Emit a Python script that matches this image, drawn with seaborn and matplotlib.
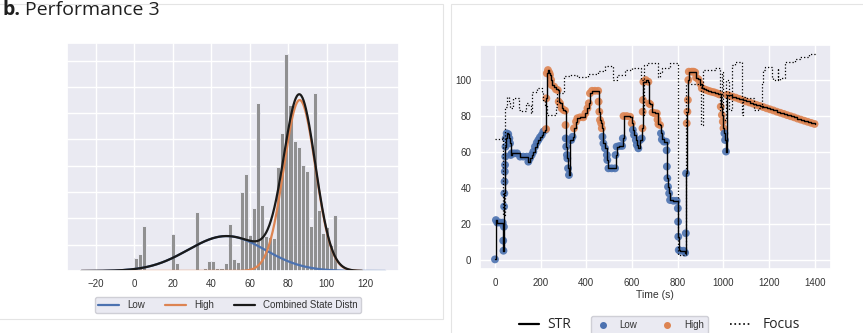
import numpy as np
import pandas as pd
import matplotlib
matplotlib.use("Agg")
import matplotlib.pyplot as plt
import seaborn as sns
from matplotlib.lines import Line2D
from matplotlib.patches import Rectangle

# ---------------- data: left panel (state distribution) ----------------
bin_edges = np.linspace(0.0, 105.5, 51)
# density of each bin (histogram of STR values)
hist_density = [0.00255, 0.00315, 0.00855, 0.0, 0.00025, 0.00025, 0.0, 0.00025, 0.00025, 0.00695,
                0.00145, 0.0, 0.0, 0.00025, 0.00025, 0.01125, 0.0, 0.0005, 0.0019, 0.0019,
                0.0005, 0.0005, 0.00145, 0.0089, 0.0022, 0.00175, 0.01495, 0.01835, 0.00685, 0.0119,
                0.03185, 0.0125, 0.00665, 0.0064, 0.0062, 0.0197, 0.02615, 0.0412, 0.0315, 0.02475,
                0.0235, 0.02015, 0.019, 0.00855, 0.03385, 0.0116, 0.00715, 0.0084, 0.00495, 0.01065]
state_names = ["Low", "High"]
state_weights = [0.333, 0.668]
state_means = [48.0, 86.0]
state_sds = [20.0, 8.2]

# ---------------- data: right panel (time series) ----------------
str_t = [0, 4, 10, 22, 34, 36, 37, 39, 40, 41, 42, 43, 44, 45, 46, 47, 51, 58, 63, 66, 69, 73, 85, 97,
         110, 124, 139, 146, 153, 161, 168, 175, 183, 190, 197, 205, 212, 221, 224, 225, 227, 232, 238,
         241, 246, 248, 259, 267, 275, 279, 285, 292, 300, 307, 309, 310, 312, 315, 317, 320, 324, 327,
         334, 340, 346, 355, 361, 373, 387, 396, 405, 411, 416, 425, 438, 452, 454, 457, 460, 465, 468,
         471, 475, 482, 490, 492, 497, 511, 526, 528, 533, 545, 557, 560, 563, 577, 592, 599, 604, 609,
         617, 621, 628, 636, 643, 646, 647, 648, 650, 660, 672, 675, 680, 690, 700, 709, 712, 716, 723,
         727, 731, 740, 750, 752, 753, 755, 758, 763, 767, 782, 796, 801, 802, 803, 805, 811, 826, 833,
         836, 837, 840, 843, 845, 847, 849, 862, 870, 877, 881, 891, 899, 906, 915, 925, 935, 945, 955,
         964, 975, 983, 989, 994, 998, 1001, 1005, 1008, 1012, 1016, 1023, 1040, 1055, 1070, 1085, 1100,
         1115, 1130, 1145, 1160, 1175, 1190, 1205, 1220, 1235, 1250, 1265, 1280, 1295, 1310, 1325, 1340,
         1355, 1370, 1385, 1400]
str_v = [0.5, 22.3, 20.9, 20.9, 20.9, 10.9, 5.3, 18.6, 29.8, 37.1, 43.6, 49.2, 52.9, 57.5, 63, 67.6, 70.4,
         70, 67.6, 64.9, 58.4, 59.3, 59.3, 59.3, 57.5, 57.5, 57.5, 54.7, 56.5, 58.4, 60.2, 63, 65.2, 66.7,
         68.2, 69.5, 71.4, 72.3, 72.8, 89.8, 103.7, 105.5, 104, 102.8, 100, 97.2, 96.3, 94.8, 94.4, 88, 87,
         84.3, 83.4, 83, 75, 67.6, 63, 58.4, 56.5, 51, 47.3, 66.7, 66.7, 68.5, 73.2, 76.9, 78.8, 79.3, 79.3,
         81.5, 84.3, 87.1, 92.6, 94, 94, 94, 88, 82.4, 77.8, 76, 73.2, 68.5, 64.8, 62.1, 58.4, 55.6, 51, 51,
         51, 58.4, 63, 63.4, 63.4, 67.6, 80, 80, 79.6, 76, 72.3, 69.5, 66.7, 64, 62.1, 66.7, 67.6, 73.2,
         82.4, 88.9, 99, 100, 99, 87, 86.5, 82, 81.5, 81.5, 78, 75.5, 75, 70.4, 67, 65.8, 65.8, 61, 52, 45.5,
         40.8, 37.1, 33.4, 33, 33, 28.8, 21.4, 13.1, 5.7, 5.3, 5.3, 4.2, 15, 48.2, 76, 82.4, 88.9, 100, 104.6,
         104.6, 104.6, 104.2, 101.3, 100.4, 98, 95.4, 95, 94.5, 94, 93.6, 93.3, 93, 92.5, 92, 85.2, 80.6,
         76.9, 73.2, 70.4, 66.7, 60.3, 91.7, 91.5, 90.8, 90.2, 89.5, 88.8, 88.1, 87.5, 86.9, 86.2, 85.6, 85,
         84.3, 83.7, 83.1, 82.4, 81.8, 81.2, 80.5, 79.9, 79.3, 78.6, 78, 77.4, 76.8, 76.2, 75.6]
focus_t = [0, 29, 34, 45, 51, 54, 60, 66, 80, 102, 107, 110, 131, 136, 143, 153, 156, 161, 180, 183, 197,
           205, 212, 219, 227, 263, 267, 270, 300, 304, 330, 358, 402, 409, 446, 453, 475, 482, 511, 516,
           526, 533, 563, 570, 592, 599, 636, 639, 647, 653, 665, 709, 716, 723, 731, 760, 767, 796, 801,
           830, 835, 884, 899, 902, 910, 957, 964, 983, 986, 995, 1001, 1010, 1023, 1038, 1052, 1074, 1081,
           1086, 1096, 1125, 1133, 1154, 1169, 1176, 1184, 1206, 1213, 1220, 1235, 1238, 1242, 1249, 1267,
           1271, 1300, 1315, 1337, 1359, 1374, 1403]
focus_v = [67.1, 68.6, 25, 85.2, 85.2, 90.8, 88, 84.3, 90.2, 90.2, 83.4, 82.8, 82.8, 87, 86, 86, 81.5,
           93.5, 93.5, 95.4, 95.4, 93.5, 89, 86, 80.6, 80.6, 85.2, 92.6, 92.6, 102.2, 102.5, 101.5, 101.5,
           103.3, 103.3, 105, 105, 107.8, 107.8, 100, 100, 102.8, 102.8, 105.5, 105.5, 106.5, 106.5, 100,
           80.6, 108.3, 109.3, 109.3, 101.9, 104.6, 106.5, 106.5, 109.3, 109.3, 3, 3, 98, 98, 97, 75, 105.5,
           105.5, 106.5, 106.5, 83, 104.6, 78, 100, 83.4, 108.3, 110.2, 110.2, 80.6, 90.8, 90, 90, 83.4, 84.3,
           99, 105.5, 107.4, 107.4, 101, 100, 100, 106.5, 100, 101, 101, 110.2, 110.2, 111.5, 113, 113,
           114.3, 113.9]
high_threshold = 72.5

# ---------------- style ----------------
sns.set_theme(style="darkgrid")
plt.rcParams["font.family"] = ["Liberation Sans", "DejaVu Sans"]
BLUE, ORANGE = sns.color_palette("deep")[0], sns.color_palette("deep")[1]
TXT = "#333333"

fig = plt.figure(figsize=(8.63, 3.33), dpi=100)
W, H = 863.0, 333.0

def fx(px):
    return px / W

def fy(py):
    return 1 - py / H

# panel frames (light boxes)
fig.add_artist(Rectangle((fx(-1), fy(319)), fx(444), (319 - 4) / H, transform=fig.transFigure,
                         fill=False, edgecolor="#e4e4e4", lw=0.8))
fig.add_artist(Rectangle((fx(450.7), -0.02), 0.6, 1.02 - 4 / H, transform=fig.transFigure,
                         fill=False, edgecolor="#e4e4e4", lw=0.8))

# ---------------- left panel ----------------
axL = fig.add_axes([fx(67.3), fy(271), fx(399.3 - 67.3), (271 - 42.7) / H])
centers = (bin_edges[:-1] + bin_edges[1:]) / 2
df_hist = pd.DataFrame({"x": centers, "w": hist_density})
sns.histplot(data=df_hist, x="x", weights="w", bins=bin_edges.tolist(), stat="count", ax=axL,
             color="#808080", alpha=0.85, edgecolor="#EAEAF2", linewidth=0.7, legend=False)

def npdf(x, m, s):
    return np.exp(-0.5 * ((x - m) / s) ** 2) / (s * np.sqrt(2 * np.pi))

xs_low = np.linspace(-27.5, 130.5, 500)
xs = np.linspace(-27.5, 118.5, 500)
low_curve = state_weights[0] * npdf(xs_low, state_means[0], state_sds[0])
high_curve = state_weights[1] * npdf(xs, state_means[1], state_sds[1])
comb_curve = (state_weights[0] * npdf(xs, state_means[0], state_sds[0]) + high_curve)
sns.lineplot(x=xs_low, y=low_curve, ax=axL, color=BLUE, lw=1.6, estimator=None, sort=False, legend=False)
sns.lineplot(x=xs, y=high_curve, ax=axL, color=ORANGE, lw=1.6, estimator=None, sort=False, legend=False)
sns.lineplot(x=xs, y=comb_curve, ax=axL, color="#1a1a1a", lw=1.6, estimator=None, sort=False, legend=False)

axL.set_xlim(-34.8, 137.8)
axL.set_ylim(0, 0.0434)
axL.set_xticks(np.arange(-20, 121, 20))
axL.set_yticks(np.arange(0, 0.0434, 0.005))
axL.set_yticklabels([])
axL.set_xlabel("")
axL.set_ylabel("")
axL.tick_params(axis="x", labelsize=7, pad=5.5, colors=TXT, length=0)
axL.tick_params(axis="y", length=0)

handlesL = [Line2D([], [], color=BLUE, lw=1.6), Line2D([], [], color=ORANGE, lw=1.6),
            Line2D([], [], color="#1a1a1a", lw=1.6)]
legL = fig.legend(handlesL, ["Low", "High", "Combined State Distn"], loc="center",
                  bbox_to_anchor=(fx(228), fy(305)), ncol=3, fontsize=7, frameon=True,
                  handlelength=2.1, handletextpad=0.85, columnspacing=2.1, borderpad=0.35,
                  facecolor="#EAEAF2", edgecolor="#cfcfd6", framealpha=1)
for t in legL.get_texts():
    t.set_color(TXT)

# ---------------- right panel ----------------
axR = fig.add_axes([fx(479.7), fy(269.3), fx(831 - 479.7), (269.3 - 45) / H])
df_str = pd.DataFrame({"t": str_t, "v": str_v})
df_str["state"] = np.where(df_str["v"] >= high_threshold, "High", "Low")
sns.scatterplot(data=df_str, x="t", y="v", hue="state", hue_order=state_names,
                palette=[BLUE, ORANGE], s=32, linewidth=0, alpha=0.9, ax=axR, legend=False, zorder=2)
sns.lineplot(x=str_t, y=str_v, ax=axR, color="black", lw=1.0, drawstyle="steps-post",
             estimator=None, sort=False, legend=False, zorder=3)
sns.lineplot(x=focus_t, y=focus_v, ax=axR, color="black", lw=0.9, linestyle=":",
             drawstyle="steps-post", estimator=None, sort=False, legend=False, zorder=4)

axR.set_xlim(-67, 1472)
axR.set_ylim(-5.0, 119.4)
axR.set_xticks(np.arange(0, 1401, 200))
axR.set_yticks(np.arange(0, 101, 20))
axR.set_xlabel("Time (s)", fontsize=7.5, color=TXT, labelpad=1.5)
axR.set_ylabel("")
axR.tick_params(axis="both", labelsize=7, pad=6, colors=TXT, length=0)

big = {"family": ["Open Sans", "DejaVu Sans"], "size": 10}
leg1 = fig.legend([Line2D([], [], color="black", lw=1.6)], ["STR"], loc="center",
                  bbox_to_anchor=(fx(545), fy(325)), frameon=False, prop=big,
                  handlelength=1.45, handletextpad=0.65)
leg2 = fig.legend([Line2D([], [], marker="o", ls="", color=BLUE, ms=4),
                   Line2D([], [], marker="o", ls="", color=ORANGE, ms=4)],
                  ["Low", "High"], loc="center", bbox_to_anchor=(fx(649.5), fy(325)), ncol=2,
                  fontsize=7, frameon=True, handlelength=1.6, handletextpad=0.9, columnspacing=2.3,
                  borderpad=0.45, facecolor="#EAEAF2", edgecolor="#cfcfd6", framealpha=1)
for t in leg2.get_texts():
    t.set_color(TXT)
leg3 = fig.legend([Line2D([], [], color="black", lw=1.2, ls=":")], ["Focus"], loc="center",
                  bbox_to_anchor=(fx(765), fy(325)), frameon=False, prop=big,
                  handlelength=1.45, handletextpad=0.9)

# ---------------- title ----------------
t1 = fig.text(fx(3), fy(15), "b.", fontsize=14, fontweight="bold", va="baseline", ha="left",
              family=["Open Sans", "DejaVu Sans"], color="#1f1f1f")
fig.canvas.draw()
bb = t1.get_window_extent(renderer=fig.canvas.get_renderer())
fig.text(bb.x1 / W + fx(4), fy(15), "Performance 3", fontsize=14, va="baseline", ha="left",
         family=["Open Sans", "DejaVu Sans"], color="#1f1f1f")

fig.savefig("out.png", dpi=100)
